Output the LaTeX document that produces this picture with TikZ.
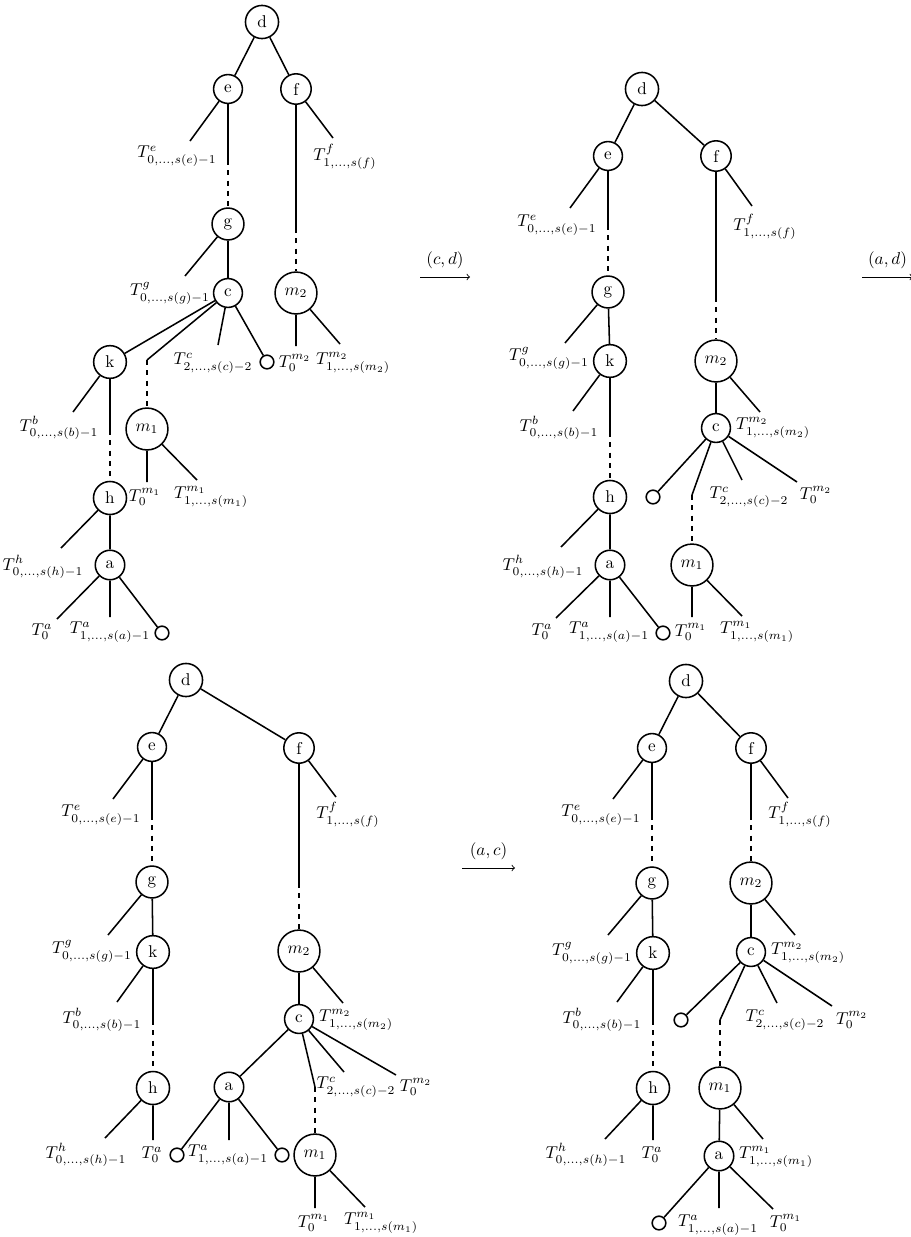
\documentclass[tikz,border=0pt]{standalone}
\usepackage{amsmath}
\begin{document}
\begin{tikzpicture}[x=0.585pt,y=-0.585pt,
  vtx/.style={circle, draw, line width=0.9pt, inner sep=0.37em},
  emp/.style={circle, draw, line width=0.9pt, minimum size=8pt, inner sep=0pt},
  lbl/.style={inner sep=0pt},
  edge/.style={line width=0.9pt},
  dsh/.style={line width=0.9pt, dashed},
  stp/.style={->, line width=0.5pt}]
\useasboundingbox (0,0) rectangle (911,1237);

% ---------------- Tree 1 ----------------
\node[vtx] (d1) at (262,22) {d};
\node[vtx] (e1) at (228,89) {e};
\node[vtx] (f1) at (296,89) {f};
\node[vtx] (g1) at (228,224) {g};
\node[vtx] (c1) at (228,293) {c};
\node[vtx] (m21) at (296,293) {$m_2$};
\node[vtx] (k1) at (110,362) {k};
\node[vtx] (m11) at (147,429) {$m_1$};
\node[vtx] (h1) at (110,498) {h};
\node[vtx] (a1) at (110,565) {a};
\node[emp] (o11) at (267,362) {};
\node[emp] (o12) at (162,633) {};
\coordinate (te1) at (190,141);
\coordinate (tf1) at (333,138);
\coordinate (eg1) at (228,160);
\coordinate (fm1) at (296,228);
\coordinate (tg1) at (185,276);
\coordinate (cm1) at (147,360);
\coordinate (tc1) at (218,345);
\coordinate (tm20a) at (296,346);
\coordinate (tm21a) at (340,344);
\coordinate (tb1) at (73,412);
\coordinate (kh1) at (110,430);
\coordinate (tm10a) at (147,482);
\coordinate (tm11a) at (197,480);
\coordinate (th1) at (61,548);
\coordinate (ta0a) at (57,619);
\coordinate (ta1a) at (110,617);
\draw[edge] (d1)--(e1) (d1)--(f1) (e1)--(te1) (e1)--(eg1) (f1)--(tf1) (f1)--(fm1)
  (g1)--(tg1) (g1)--(c1) (c1)--(k1) (c1)--(cm1) (c1)--(tc1) (c1)--(o11)
  (m21)--(tm20a) (m21)--(tm21a) (k1)--(tb1) (k1)--(kh1) (m11)--(tm10a) (m11)--(tm11a)
  (h1)--(th1) (h1)--(a1) (a1)--(ta0a) (a1)--(ta1a) (a1)--(o12);
\draw[dsh] (eg1)--(g1) (fm1)--(m21) (cm1)--(m11) (kh1)--(h1);
\node[lbl] (Le1) at (177,156) {$T^e_{0,\ldots,s(e)-1}$};
\node[lbl] (Lf1) at (345,157) {$T^f_{1,\ldots,s(f)}$};
\node[lbl] (Lg1) at (170,293) {$T^g_{0,\ldots,s(g)-1}$};
\node[lbl] (Lc1) at (213,363) {$T^c_{2,\ldots,s(c)-2}$};
\node[lbl] (Lm20a) at (295,363) {$T^{m_2}_0$};
\node[lbl] (Lm21a) at (353,363) {$T^{m_2}_{1,\ldots,s(m_2)}$};
\node[lbl] (Lb1) at (59,428) {$T^b_{0,\ldots,s(b)-1}$};
\node[lbl] (Lm10a) at (145,497) {$T^{m_1}_0$};
\node[lbl] (Lm11a) at (211,497) {$T^{m_1}_{1,\ldots,s(m_1)}$};
\node[lbl] (Lh1) at (43,567) {$T^h_{0,\ldots,s(h)-1}$};
\node[lbl] (La0a) at (42,632) {$T^a_0$};
\node[lbl] (La1a) at (110,632) {$T^a_{1,\ldots,s(a)-1}$};

% ---------------- Arrows ----------------
\coordinate (s1a) at (420,277); \coordinate (s1b) at (470,277);
\draw[stp] (s1a) -- (s1b) node[midway, above=1pt] {$(c,d)$};
\coordinate (s2a) at (862,277); \coordinate (s2b) at (913,277);
\draw[stp] (s2a) -- (s2b) node[midway, above=1pt] {$(a,d)$};
\coordinate (s3a) at (462,868); \coordinate (s3b) at (515,868);
\draw[stp] (s3a) -- (s3b) node[midway, above=1pt] {$(a,c)$};

% ---------------- Tree 2 ----------------
\node[vtx] (d2) at (642,89) {d};
\node[vtx] (e2) at (608,156) {e};
\node[vtx] (f2) at (716,156) {f};
\node[vtx] (g2) at (608,292) {g};
\node[vtx] (k2) at (610,361) {k};
\node[vtx] (h2) at (610,497) {h};
\node[vtx] (a2) at (610,565) {a};
\node[vtx] (m22) at (716,361) {$m_2$};
\node[vtx] (c2) at (716,428) {c};
\node[vtx] (m12) at (692,565) {$m_1$};
\node[emp] (o21) at (653,497) {};
\node[emp] (o22) at (663,633) {};
\coordinate (te2) at (570,208);
\coordinate (eg2) at (608,225);
\coordinate (tf2) at (752,206);
\coordinate (fm2) at (716,297);
\coordinate (tg2) at (565,343);
\coordinate (tb2) at (573,411);
\coordinate (kh2) at (610,432);
\coordinate (th2) at (561,547);
\coordinate (ta0b) at (556,618);
\coordinate (ta1b) at (610,617);
\coordinate (tm21b) at (760,412);
\coordinate (cm2) at (692,495);
\coordinate (tc2) at (742,480);
\coordinate (tm20b) at (797,482);
\coordinate (tm10b) at (692,617);
\coordinate (tm11b) at (742,616);
\draw[edge] (d2)--(e2) (d2)--(f2) (e2)--(te2) (e2)--(eg2) (f2)--(tf2) (f2)--(fm2)
  (g2)--(tg2) (g2)--(k2) (k2)--(tb2) (k2)--(kh2) (h2)--(th2) (h2)--(a2)
  (a2)--(ta0b) (a2)--(ta1b) (a2)--(o22) (m22)--(c2) (m22)--(tm21b)
  (c2)--(o21) (c2)--(cm2) (c2)--(tc2) (c2)--(tm20b) (m12)--(tm10b) (m12)--(tm11b);
\draw[dsh] (eg2)--(g2) (fm2)--(m22) (kh2)--(h2) (cm2)--(m12);
\node[lbl] (Le2) at (557,225) {$T^e_{0,\ldots,s(e)-1}$};
\node[lbl] (Lf2) at (765,227) {$T^f_{1,\ldots,s(f)}$};
\node[lbl] (Lg2) at (549,358) {$T^g_{0,\ldots,s(g)-1}$};
\node[lbl] (Lb2) at (559,428) {$T^b_{0,\ldots,s(b)-1}$};
\node[lbl] (Lh2) at (543,567) {$T^h_{0,\ldots,s(h)-1}$};
\node[lbl] (La0b) at (542,632) {$T^a_0$};
\node[lbl] (La1b) at (609,632) {$T^a_{1,\ldots,s(a)-1}$};
\node[lbl] (Lm21b) at (773,428) {$T^{m_2}_{1,\ldots,s(m_2)}$};
\node[lbl] (Lc2) at (749,497) {$T^c_{2,\ldots,s(c)-2}$};
\node[lbl] (Lm20b) at (816,495) {$T^{m_2}_0$};
\node[lbl] (Lm10b) at (691,632) {$T^{m_1}_0$};
\node[lbl] (Lm11b) at (757,632) {$T^{m_1}_{1,\ldots,s(m_1)}$};

% ---------------- Tree 3 ----------------
\node[vtx] (d3) at (186,680) {d};
\node[vtx] (e3) at (152,747) {e};
\node[vtx] (f3) at (299,748) {f};
\node[vtx] (g3) at (152,882) {g};
\node[vtx] (k3) at (153,952) {k};
\node[vtx] (h3) at (153,1088) {h};
\node[vtx] (m23) at (299,951) {$m_2$};
\node[vtx] (c3) at (299,1019) {c};
\node[vtx] (a3) at (229,1087) {a};
\node[vtx] (m13) at (315,1155) {$m_1$};
\node[emp] (o31) at (177,1155) {};
\node[emp] (o32) at (282,1155) {};
\coordinate (te3) at (113,799);
\coordinate (eg3) at (152,815);
\coordinate (tf3) at (336,797);
\coordinate (fm3) at (299,883);
\coordinate (tg3) at (108,935);
\coordinate (tb3) at (117,1002);
\coordinate (kh3) at (153,1020);
\coordinate (th3) at (105,1138);
\coordinate (tha3) at (153,1140);
\coordinate (tm21c) at (343,1003);
\coordinate (cm3) at (315,1087);
\coordinate (tc3) at (344,1072);
\coordinate (tm20c) at (396,1075);
\coordinate (ta1c) at (229,1140);
\coordinate (tm10c) at (315,1208);
\coordinate (tm11c) at (365,1207);
\draw[edge] (d3)--(e3) (d3)--(f3) (e3)--(te3) (e3)--(eg3) (f3)--(tf3) (f3)--(fm3)
  (g3)--(tg3) (g3)--(k3) (k3)--(tb3) (k3)--(kh3) (h3)--(th3) (h3)--(tha3)
  (m23)--(c3) (m23)--(tm21c) (c3)--(a3) (c3)--(cm3) (c3)--(tc3) (c3)--(tm20c)
  (a3)--(o31) (a3)--(ta1c) (a3)--(o32) (m13)--(tm10c) (m13)--(tm11c);
\draw[dsh] (eg3)--(g3) (fm3)--(m23) (kh3)--(h3) (cm3)--(m13);
\node[lbl] (Le3) at (101,815) {$T^e_{0,\ldots,s(e)-1}$};
\node[lbl] (Lf3) at (348,815) {$T^f_{1,\ldots,s(f)}$};
\node[lbl] (Lg3) at (92,951) {$T^g_{0,\ldots,s(g)-1}$};
\node[lbl] (Lb3) at (102,1020) {$T^b_{0,\ldots,s(b)-1}$};
\node[lbl] (Lh3) at (86,1155) {$T^h_{0,\ldots,s(h)-1}$};
\node[lbl] (La0c) at (152,1155) {$T^a_0$};
\node[lbl] (Lm21c) at (356,1020) {$T^{m_2}_{1,\ldots,s(m_2)}$};
\node[lbl] (Lc3) at (356,1087) {$T^c_{2,\ldots,s(c)-2}$};
\node[lbl] (Lm20c) at (416,1087) {$T^{m_2}_0$};
\node[lbl] (La1c) at (228,1155) {$T^a_{1,\ldots,s(a)-1}$};
\node[lbl] (Lm10c) at (314,1223) {$T^{m_1}_0$};
\node[lbl] (Lm11c) at (381,1223) {$T^{m_1}_{1,\ldots,s(m_1)}$};

% ---------------- Tree 4 ----------------
\node[vtx] (d4) at (686,681) {d};
\node[vtx] (e4) at (652,748) {e};
\node[vtx] (f4) at (751,748) {f};
\node[vtx] (g4) at (652,883) {g};
\node[vtx] (k4) at (653,953) {k};
\node[vtx] (h4) at (653,1088) {h};
\node[vtx] (m24) at (751,883) {$m_2$};
\node[vtx] (c4) at (751,952) {c};
\node[vtx] (m14) at (720,1088) {$m_1$};
\node[vtx] (a4) at (719,1156) {a};
\node[emp] (o41) at (681,1020) {};
\node[emp] (o42) at (659,1223) {};
\coordinate (te4) at (613,799);
\coordinate (eg4) at (652,815);
\coordinate (tf4) at (788,798);
\coordinate (fm4) at (751,815);
\coordinate (tg4) at (608,935);
\coordinate (tm21d) at (795,935);
\coordinate (tb4) at (617,1002);
\coordinate (kh4) at (653,1020);
\coordinate (th4) at (605,1139);
\coordinate (tha4) at (653,1140);
\coordinate (cm4) at (720,1020);
\coordinate (tc4) at (777,1003);
\coordinate (tm20d) at (832,1006);
\coordinate (tm11d) at (763,1139);
\coordinate (ta1d) at (719,1208);
\coordinate (tm10d) at (773,1209);
\draw[edge] (d4)--(e4) (d4)--(f4) (e4)--(te4) (e4)--(eg4) (f4)--(tf4) (f4)--(fm4)
  (g4)--(tg4) (g4)--(k4) (m24)--(c4) (m24)--(tm21d) (k4)--(tb4) (k4)--(kh4)
  (h4)--(th4) (h4)--(tha4) (c4)--(o41) (c4)--(cm4) (c4)--(tc4) (c4)--(tm20d)
  (m14)--(a4) (m14)--(tm11d) (a4)--(o42) (a4)--(ta1d) (a4)--(tm10d);
\draw[dsh] (eg4)--(g4) (fm4)--(m24) (kh4)--(h4) (cm4)--(m14);
\node[lbl] (Le4) at (601,815) {$T^e_{0,\ldots,s(e)-1}$};
\node[lbl] (Lf4) at (800,815) {$T^f_{1,\ldots,s(f)}$};
\node[lbl] (Lg4) at (592,953) {$T^g_{0,\ldots,s(g)-1}$};
\node[lbl] (Lm21d) at (808,953) {$T^{m_2}_{1,\ldots,s(m_2)}$};
\node[lbl] (Lb4) at (602,1020) {$T^b_{0,\ldots,s(b)-1}$};
\node[lbl] (Lh4) at (586,1155) {$T^h_{0,\ldots,s(h)-1}$};
\node[lbl] (La0d) at (652,1155) {$T^a_0$};
\node[lbl] (Lc4) at (785,1020) {$T^c_{2,\ldots,s(c)-2}$};
\node[lbl] (Lm20d) at (852,1020) {$T^{m_2}_0$};
\node[lbl] (Lm11d) at (776,1157) {$T^{m_1}_{1,\ldots,s(m_1)}$};
\node[lbl] (La1d) at (718,1225) {$T^a_{1,\ldots,s(a)-1}$};
\node[lbl] (Lm10d) at (786,1223) {$T^{m_1}_0$};
\end{tikzpicture}
\end{document}
